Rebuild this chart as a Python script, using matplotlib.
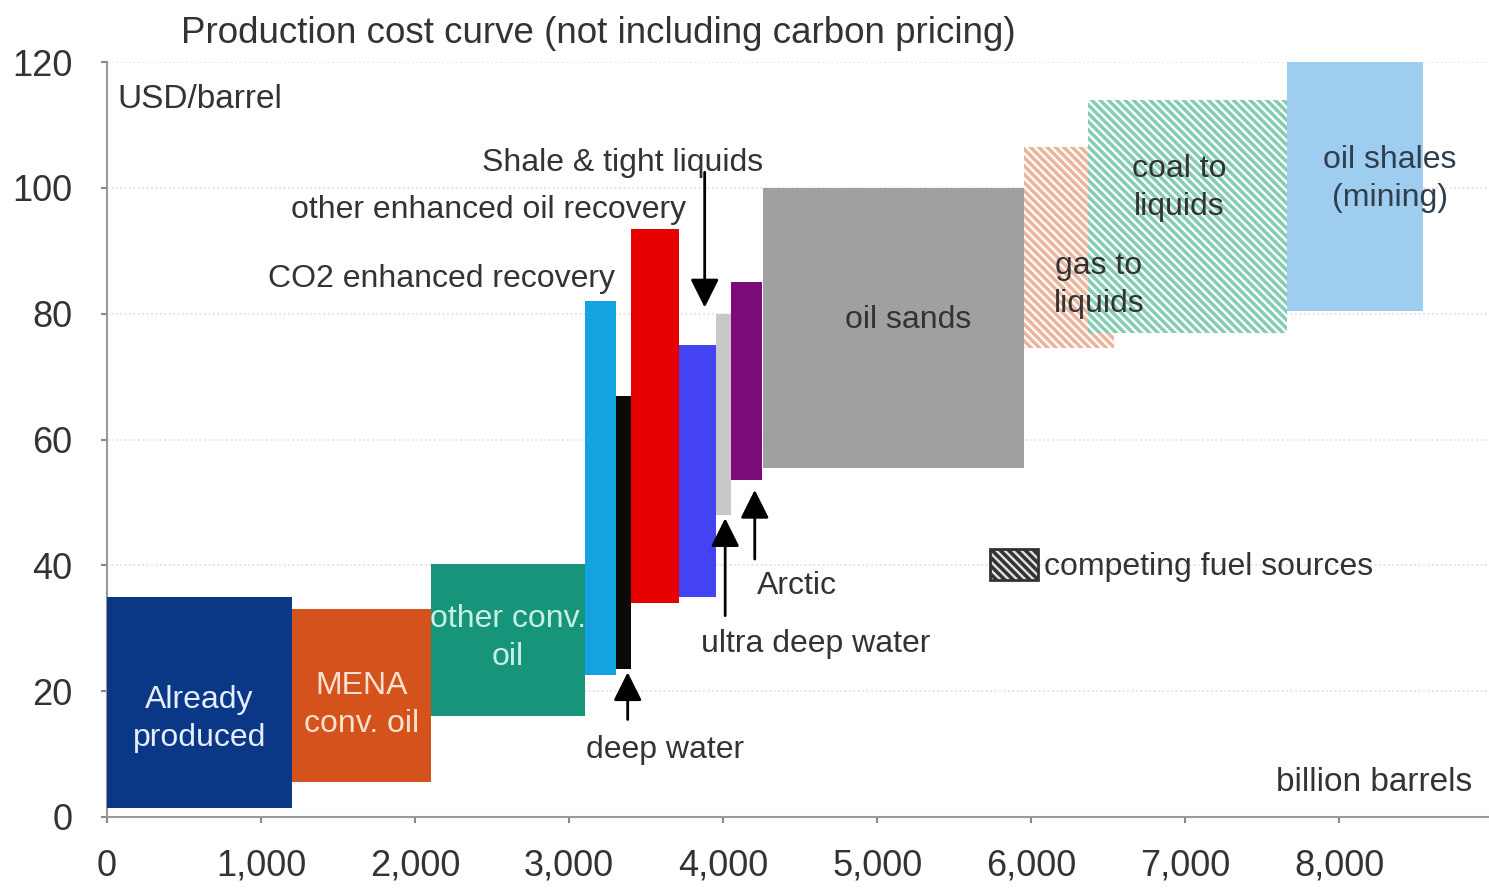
import numpy as np
from matplotlib import pyplot as plt
from matplotlib.patches import Patch

plt.rcParams['font.family'] = ['Liberation Sans', 'DejaVu Sans']
plt.rcParams['hatch.linewidth'] = 2.5

# resource ranges (billion barrels) and cost ranges (USD/barrel)
names = ['Already produced', 'MENA conv. oil', 'other conv. oil', 'CO2 enhanced recovery',
         'deep water', 'other enhanced oil recovery', 'Shale & tight liquids',
         'ultra deep water', 'Arctic', 'oil sands', 'oil shales (mining)']
x_start = [0, 1200, 2100, 3100, 3305, 3400, 3710, 3955, 4050, 4260, 7660]
x_end = [1200, 2100, 3100, 3305, 3400, 3710, 3955, 4050, 4250, 5950, 8545]
cost_low = [1.5, 5.5, 16, 22.5, 23.5, 34, 35, 48, 53.5, 55.5, 80.5]
cost_high = [35, 33, 40.2, 82, 67, 93.5, 75, 80, 85, 100, 120]

# competing fuel sources (hatched)
comp_names = ['gas to liquids', 'coal to liquids']
comp_start = [5955, 6370]
comp_end = [6535, 7660]
comp_low = [74.5, 77]
comp_high = [106.5, 114]

colors = ['#0a3886', '#d4521c', '#16957a', '#14a3e0', '#0a0a0a', '#e60000',
          '#4343f3', '#c8c8c8', '#7c0a78', '#a0a0a0', '#9ecdf0']
comp_colors = ['#ecb49a', '#84ccb4']

x_ticks = [0, 1000, 2000, 3000, 4000, 5000, 6000, 7000, 8000]
x_ticklabels = ['0', '1,000', '2,000', '3,000', '4,000', '5,000', '6,000', '7,000', '8,000']
y_ticks = [0, 20, 40, 60, 80, 100, 120]

dark = '#333333'

fig = plt.figure(figsize=(14.89, 8.88), dpi=100)
ax = fig.add_axes([0.0719, 0.080, 0.931, 0.850])

x_start = np.array(x_start)
x_end = np.array(x_end)
cost_low = np.array(cost_low)
cost_high = np.array(cost_high)
ax.bar(x_start, cost_high - cost_low, width=x_end - x_start, bottom=cost_low,
       align='edge', color=colors, linewidth=0, zorder=3)

for s, e, lo, hi, c in zip(comp_start, comp_end, comp_low, comp_high, comp_colors):
    ax.bar(s, hi - lo, width=e - s, bottom=lo, align='edge', facecolor='white',
           edgecolor=c, hatch='\\\\\\\\', linewidth=0, zorder=3)

ax.set_xlim(0, 9000)
ax.set_ylim(0, 120)
ax.set_xticks(x_ticks)
ax.set_xticklabels(x_ticklabels)
ax.set_yticks(y_ticks)
ax.tick_params(labelsize=26, colors='#888888', labelcolor=dark, length=4, width=1.5)
ax.tick_params(axis='y', pad=21)
ax.tick_params(axis='x', pad=19)
for s in ['top', 'right']:
    ax.spines[s].set_visible(False)
for s in ['left', 'bottom']:
    ax.spines[s].set_color('#999999')
    ax.spines[s].set_linewidth(1.5)
ax.yaxis.grid(True, color='#dddddd', linestyle=':', linewidth=1.2, zorder=0)
ax.set_axisbelow(True)

fig.text(0.402, 0.962, 'Production cost curve (not including carbon pricing)',
         ha='center', va='center', fontsize=26.5, color=dark)
ax.text(70, 114, 'USD/barrel', fontsize=24, color=dark, va='center')
ax.text(8860, 5.5, 'billion barrels', fontsize=24, color=dark, ha='right', va='center')

# labels inside bars
ax.text(600, 15.6, 'Already\nproduced', ha='center', va='center', fontsize=23,
        color='#e6eeff', linespacing=1.35, zorder=4)
ax.text(1650, 17.8, 'MENA\nconv. oil', ha='center', va='center', fontsize=23,
        color='#fde0cf', linespacing=1.35, zorder=4)
ax.text(2600, 28.5, 'other conv.\noil', ha='center', va='center', fontsize=23,
        color='#c8f0e2', linespacing=1.35, zorder=4)
ax.text(5200, 79, 'oil sands', ha='center', va='center', fontsize=23, color=dark, zorder=4)
ax.text(6440, 84.5, 'gas to\nliquids', ha='center', va='center', fontsize=23,
        color=dark, linespacing=1.35, zorder=4)
ax.text(6960, 100, 'coal to\nliquids', ha='center', va='center', fontsize=23,
        color=dark, linespacing=1.35, zorder=4)
ax.text(8330, 101.5, 'oil shales\n(mining)', ha='center', va='center', fontsize=23,
        color='#2f3f4f', linespacing=1.35, zorder=4)

# labels with arrows / leaders
ax.text(3350, 104, 'Shale & tight liquids', ha='center', va='center', fontsize=23, color=dark)
ax.text(2475, 96.5, 'other enhanced oil recovery', ha='center', va='center', fontsize=23, color=dark)
ax.text(2170, 85.5, 'CO2 enhanced recovery', ha='center', va='center', fontsize=23, color=dark)
ax.text(3620, 10.6, 'deep water', ha='center', va='center', fontsize=23, color=dark)
ax.text(4600, 27.5, 'ultra deep water', ha='center', va='center', fontsize=23, color=dark)
ax.text(4480, 36.7, 'Arctic', ha='center', va='center', fontsize=23, color=dark)

arrow = dict(arrowstyle='-|>,head_length=0.5,head_width=0.25', color='black',
             lw=2, mutation_scale=35, shrinkA=0, shrinkB=0)
ax.annotate('', xy=(3880, 81), xytext=(3880, 102.5), arrowprops=arrow, zorder=5)
ax.annotate('', xy=(3380, 23), xytext=(3380, 15.5), arrowprops=arrow, zorder=5)
ax.annotate('', xy=(4013, 47.5), xytext=(4013, 32), arrowprops=arrow, zorder=5)
ax.annotate('', xy=(4205, 52), xytext=(4205, 41), arrowprops=arrow, zorder=5)

leg_patch = Patch(facecolor='#e0e0e0', edgecolor='#333333', hatch='\\\\\\\\', linewidth=2)
ax.legend(handles=[leg_patch], labels=['competing fuel sources'], loc='center left',
          bbox_to_anchor=(0.637, 0.333), frameon=False, fontsize=23,
          handlelength=1.5, handleheight=1.1, handletextpad=0.2,
          borderpad=0, borderaxespad=0, labelcolor=dark)

fig.savefig('out.png')
